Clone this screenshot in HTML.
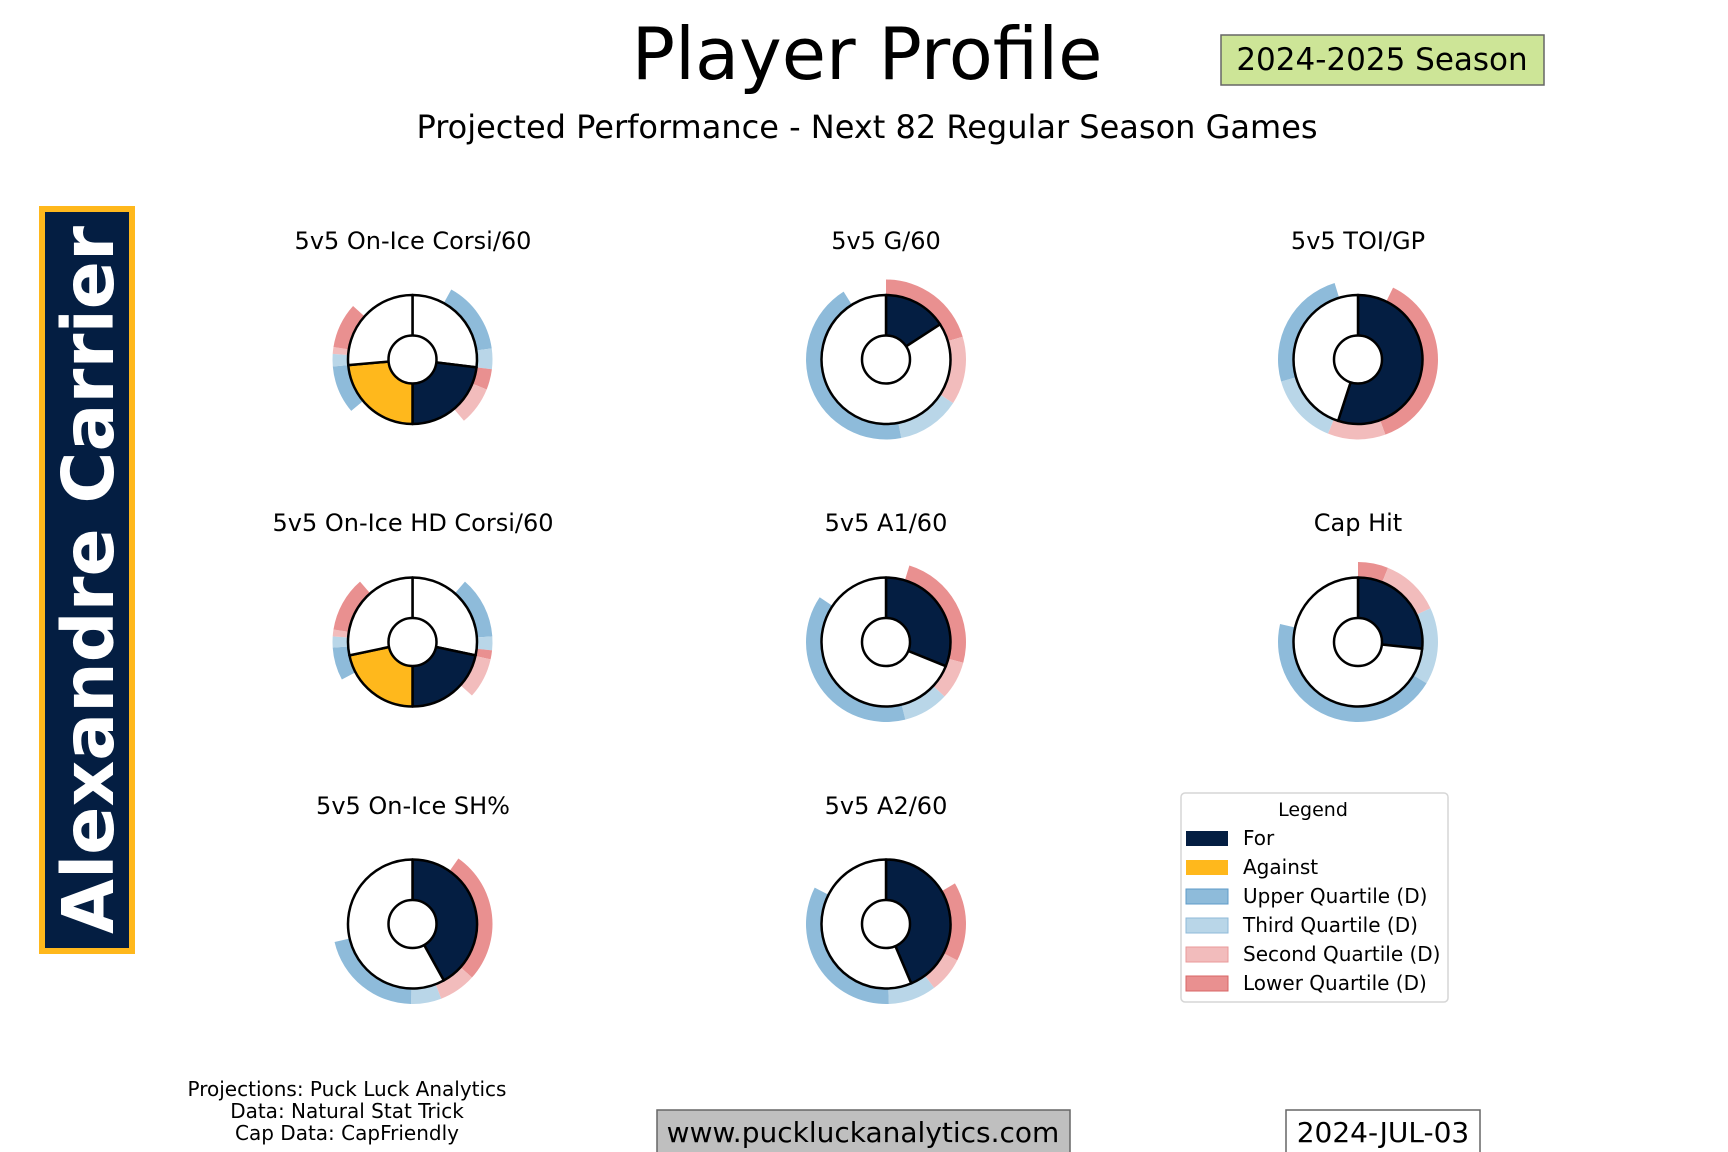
<!DOCTYPE html>
<html><head><meta charset="utf-8"><style>
html,body{margin:0;padding:0;background:#fff;}
svg{display:block;font-family:"DejaVu Sans","Liberation Sans",sans-serif;}
</style></head><body>
<svg id="s" width="1728" height="1152" viewBox="0 0 1728 1152" xmlns="http://www.w3.org/2000/svg">
<rect width="1728" height="1152" fill="#fff"/>
<text x="867" y="79" font-size="72" text-anchor="middle">Player Profile</text>
<text x="867" y="138" font-size="32" text-anchor="middle">Projected Performance - Next 82 Regular Season Games</text>
<rect x="1221" y="35" width="323" height="50" fill="#cde597" stroke="#666" stroke-width="1.5"/>
<text x="1382" y="70" font-size="31" text-anchor="middle">2024-2025 Season</text>
<rect x="42" y="209" width="90" height="742" fill="#041E42" stroke="#FFB81C" stroke-width="6"/>
<text transform="translate(113,580) rotate(-90)" font-size="71" font-weight="bold" fill="#fff" text-anchor="middle">Alexandre Carrier</text>
<g font-size="24" text-anchor="middle">
<text x="413" y="249">5v5 On-Ice Corsi/60</text>
<text x="886" y="249">5v5 G/60</text>
<text x="1358" y="249">5v5 TOI/GP</text>
<text x="413" y="531">5v5 On-Ice HD Corsi/60</text>
<text x="886" y="531">5v5 A1/60</text>
<text x="1358" y="531">Cap Hit</text>
<text x="413" y="814">5v5 On-Ice SH%</text>
<text x="886" y="814">5v5 A2/60</text>
</g>
<g id="d"></g>
<rect x="1181" y="793" width="267" height="209" rx="4" fill="#fff" stroke="#d6d6d6" stroke-width="1.5"/>
<text x="1313" y="816" font-size="19" text-anchor="middle">Legend</text>
<g font-size="20">
<rect x="1186" y="831" width="42" height="15" fill="#041E42"/><text x="1243" y="845">For</text>
<rect x="1186" y="860" width="42" height="15" fill="#FFB81C"/><text x="1243" y="874">Against</text>
<rect x="1186" y="889" width="42" height="15" fill="#8ebbda" stroke="#5f9bc8"/><text x="1243" y="903">Upper Quartile (D)</text>
<rect x="1186" y="918" width="42" height="15" fill="#b9d6e8" stroke="#8fbad8"/><text x="1243" y="932">Third Quartile (D)</text>
<rect x="1186" y="947" width="42" height="15" fill="#f2bcbc" stroke="#e99a9a"/><text x="1243" y="961">Second Quartile (D)</text>
<rect x="1186" y="976" width="42" height="15" fill="#e99090" stroke="#d86666"/><text x="1243" y="990">Lower Quartile (D)</text>
</g>
<g font-size="20" text-anchor="middle">
<text x="347" y="1096">Projections: Puck Luck Analytics</text>
<text x="347" y="1118">Data: Natural Stat Trick</text>
<text x="347" y="1140">Cap Data: CapFriendly</text>
</g>
<rect x="657" y="1110" width="413" height="50" fill="#bfbfbf" stroke="#666" stroke-width="1.5"/>
<text x="863" y="1142" font-size="28" text-anchor="middle">www.puckluckanalytics.com</text>
<rect x="1286" y="1110" width="194" height="50" fill="#fff" stroke="#666" stroke-width="1.5"/>
<text x="1383" y="1142" font-size="28" text-anchor="middle">2024-JUL-03</text>
</svg>
<script>
var B="#8ebbda",LB="#b9d6e8",P="#f2bcbc",R="#e99090",N="#041E42",G="#FFB81C",W="#fff";
var D=[
[412.5,359.5,[[0,97,W],[97,180,N],[180,265,G],[265,360,W]],[[29,82,B],[82,97,LB],[97,112,R],[112,140,P],[230,265,B],[265,274,LB],[274,279,P],[279,312,R]]],
[886,359.5,[[0,57,N],[57,360,W]],[[0,73.5,R],[73.5,123,P],[123,169,LB],[169,328,B]]],
[1358,359.5,[[0,198,N],[198,360,W]],[[26,160,R],[160,202,P],[202,254,LB],[254,343,B]]],
[412.5,642,[[0,102,W],[102,180,N],[180,258,G],[258,360,W]],[[41,86,B],[86,96,LB],[96,102.5,R],[102.5,132,P],[242,266,B],[266,274,LB],[274,279,P],[279,319,R]]],
[886,642,[[0,112,N],[112,360,W]],[[17,105,R],[105,133,P],[133,166,LB],[166,304,B]]],
[1358,642,[[0,96,N],[96,360,W]],[[0,22,R],[22,65,P],[65,121,LB],[121,283,B]]],
[412.5,924,[[0,151,N],[151,360,W]],[[35,132,R],[132,159,P],[159,181,LB],[181,257,B]]],
[886,924,[[0,157,N],[157,360,W]],[[59.5,117,R],[117,143,P],[143,178,LB],[178,297,B]]]
];
function pt(cx,cy,r,a){a=a*Math.PI/180;return (cx+r*Math.sin(a)).toFixed(2)+","+(cy-r*Math.cos(a)).toFixed(2);}
function seg(cx,cy,r0,r1,a0,a1){var l=(a1-a0)>180?1:0;
return "M"+pt(cx,cy,r1,a0)+"A"+r1+","+r1+" 0 "+l+" 1 "+pt(cx,cy,r1,a1)+"L"+pt(cx,cy,r0,a1)+"A"+r0+","+r0+" 0 "+l+" 0 "+pt(cx,cy,r0,a0)+"Z";}
function wedge(cx,cy,r,a0,a1){var l=(a1-a0)>180?1:0;
return "M"+cx+","+cy+"L"+pt(cx,cy,r,a0)+"A"+r+","+r+" 0 "+l+" 1 "+pt(cx,cy,r,a1)+"Z";}
var h="";
D.forEach(function(d){var cx=d[0],cy=d[1];
d[3].forEach(function(s){h+='<path d="'+seg(cx,cy,64.5,80,s[0],s[1])+'" fill="'+s[2]+'"/>';});
d[2].forEach(function(s){h+='<path d="'+wedge(cx,cy,64.5,s[0],s[1])+'" fill="'+s[2]+'" stroke="#000" stroke-width="2.5" stroke-linejoin="round"/>';});
h+='<circle cx="'+cx+'" cy="'+cy+'" r="24" fill="#fff" stroke="#000" stroke-width="2.5"/>';
});
document.getElementById("d").innerHTML=h;
</script>
</body></html>
